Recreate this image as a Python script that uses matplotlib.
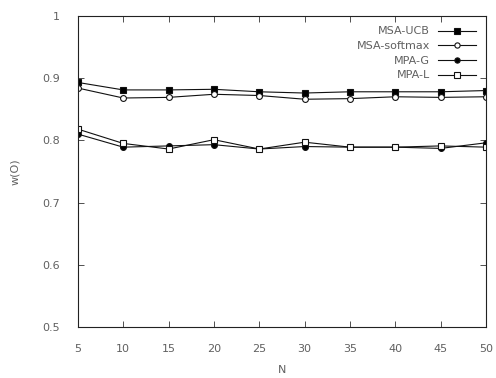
import matplotlib
matplotlib.use("Agg")
import matplotlib.pyplot as plt

N = [5, 10, 15, 20, 25, 30, 35, 40, 45, 50]
msa_ucb = [0.893, 0.881, 0.881, 0.882, 0.878, 0.876, 0.878, 0.878, 0.878, 0.880]
msa_softmax = [0.884, 0.868, 0.869, 0.874, 0.872, 0.866, 0.867, 0.870, 0.869, 0.870]
mpa_g = [0.810, 0.789, 0.791, 0.793, 0.786, 0.790, 0.789, 0.789, 0.787, 0.796]
mpa_l = [0.818, 0.795, 0.786, 0.801, 0.786, 0.797, 0.789, 0.789, 0.791, 0.789]

txt = "#606060"
plt.rcParams['font.family'] = 'DejaVu Sans'
plt.rcParams['font.size'] = 8

fig = plt.figure(figsize=(4.96, 3.78), dpi=100)
ax = fig.add_axes([0.157, 0.135, 0.823, 0.823])

kw = dict(color="#111111", lw=0.8, markersize=4.2, markeredgewidth=0.8)
ax.plot(N, msa_ucb, marker="s", mfc="black", label="MSA-UCB", **kw)
ax.plot(N, msa_softmax, marker="o", mfc="white", label="MSA-softmax", **kw)
ax.plot(N, mpa_g, marker="o", mfc="black", label="MPA-G", **kw)
ax.plot(N, mpa_l, marker="s", mfc="white", label="MPA-L", **kw)

ax.set_xlim(5, 50)
ax.set_ylim(0.5, 1)
ax.set_xticks(N)
ax.set_yticks([0.5, 0.6, 0.7, 0.8, 0.9, 1])
ax.set_yticklabels(["0.5", "0.6", "0.7", "0.8", "0.9", "1"])
ax.tick_params(direction="in", top=True, right=True, length=4, width=0.6,
               colors="#333333", labelcolor=txt)
ax.tick_params(axis="y", pad=13)
ax.tick_params(axis="x", pad=12)
for s in ax.spines.values():
    s.set_linewidth(0.8)
    s.set_color("#222222")

ax.set_xlabel("N", color=txt, labelpad=8)
ax.set_ylabel("w(O)", color=txt, labelpad=16)

leg = ax.legend(loc="upper right", frameon=False, markerfirst=False,
                handlelength=3.4, borderaxespad=0.6, borderpad=0.35,
                labelspacing=0.42, handletextpad=0.7, fontsize=8,
                markerscale=0.9)
for t in leg.get_texts():
    t.set_color(txt)
    t.set_ha("right")
leg._legend_box.align = "right"

fig.savefig("out.png", dpi=100)
